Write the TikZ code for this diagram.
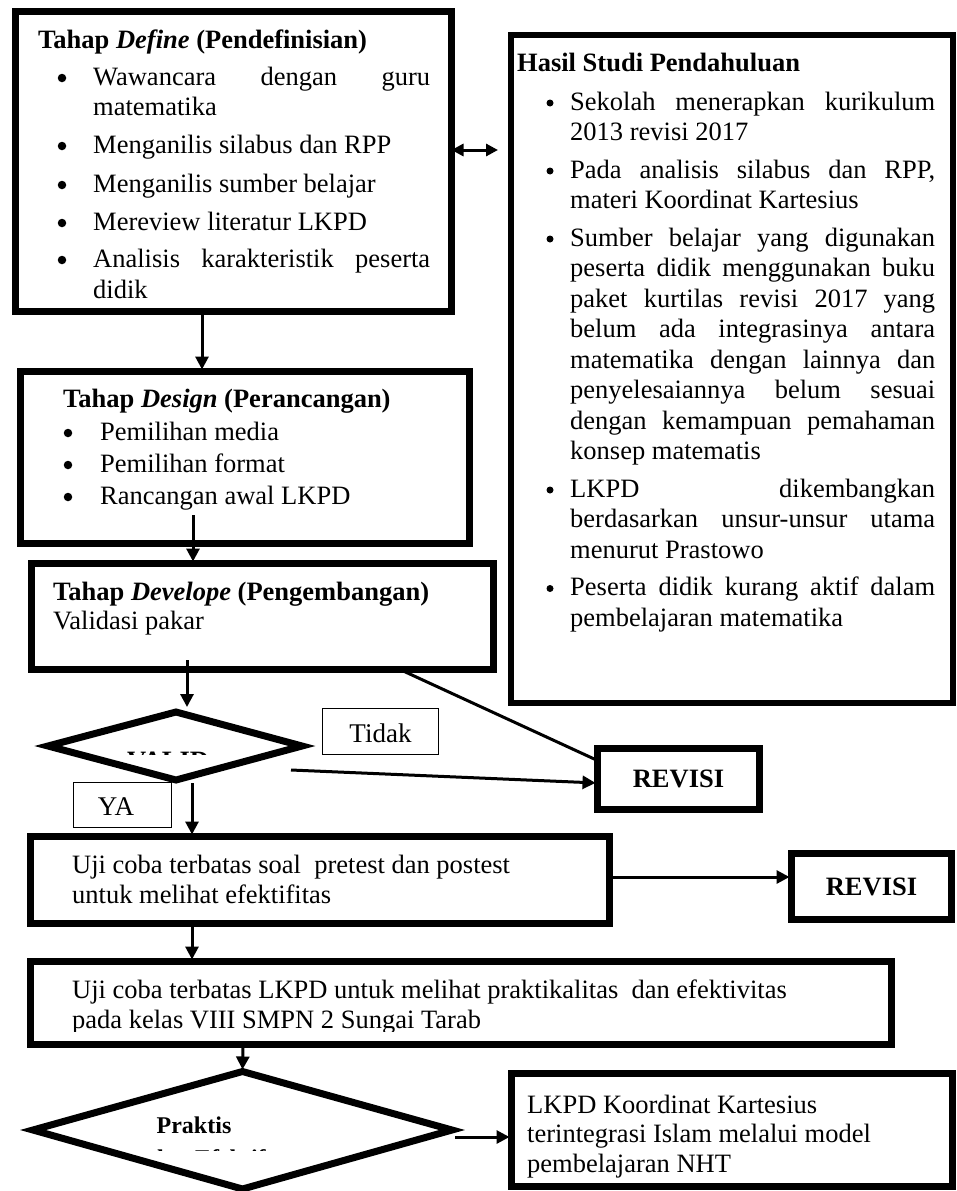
\documentclass[tikz,border=0pt]{standalone}
\usepackage{fontspec}
\setmainfont{Liberation Serif}
\usetikzlibrary{arrows.meta}
\newcommand{\fs}{\fontsize{26.5}{30.5}\selectfont}
\begin{document}
\begin{tikzpicture}[x=1pt,y=-1pt,
  heavybox/.style={draw, line width=7pt, inner sep=0pt, outer sep=0pt, anchor=north west},
  cbox/.style={draw, line width=7pt, inner sep=0pt, outer sep=0pt, font=\fs\bfseries},
  lightbox/.style={draw, line width=1.5pt, inner sep=0pt, outer sep=0pt},
  txt/.style={anchor=base west, inner sep=0pt, font=\fs},
  btxt/.style={anchor=base west, inner sep=0pt, font=\fs\bfseries},
  bul/.style={circle, fill=black, inner sep=0pt, minimum size=8.5pt},
  rbul/.style={circle, fill=black, inner sep=0pt, minimum size=7pt},
  diam/.style={draw, line width=7pt, miter limit=10},
  conn/.style={line width=3pt},
  arr/.style={line width=3pt, -{Triangle[length=13pt,width=13pt]}, shorten >=2pt},
  darr/.style={line width=3pt, {Triangle[length=12pt,width=12pt]}-{Triangle[length=12pt,width=12pt]}}]
\useasboundingbox[fill=white] (0,0) rectangle (956,1191);

% ---------- boxes ----------
\node[heavybox, minimum width=436pt, minimum height=300pt] (define) at (15.5,11.5) {};
\node[heavybox, line width=6pt, minimum width=442pt, minimum height=668pt] (rbox) at (511,35) {};
\node[heavybox, minimum width=449pt, minimum height=172pt] (design) at (20.5,371.5) {};
\node[heavybox, minimum width=462pt, minimum height=106pt] (develop) at (31.5,563.5) {};
\node[cbox, minimum width=162pt, minimum height=61pt] (rv1) at (678.5,779) {REVISI};
\node[cbox, minimum width=160pt, minimum height=66pt] (rv2) at (871.5,886.5) {REVISI};
\node[lightbox, minimum width=116pt, minimum height=46pt] (tidak) at (380.5,731.5) {};
\node[lightbox, minimum width=98pt, minimum height=45pt] (ya) at (122.5,805) {};
\node[heavybox, minimum width=579pt, minimum height=87pt] (uji1) at (30.5,836.5) {};
\node[heavybox, minimum width=861pt, minimum height=83pt] (uji2) at (30.5,961.5) {};
\node[heavybox, minimum width=441pt, minimum height=113pt] (final) at (511.5,1073.5) {};

% ---------- diamonds ----------
\coordinate (d1l) at (48,746);
\coordinate (d1t) at (176,712);
\coordinate (d1r) at (302,746);
\coordinate (d1b) at (176,780);
\draw[diam] (d1l) -- (d1t) -- (d1r) -- (d1b) -- cycle;
\coordinate (d2l) at (33,1130);
\coordinate (d2t) at (242.5,1071.5);
\coordinate (d2r) at (452,1130);
\coordinate (d2b) at (242.5,1189);
\draw[diam] (d2l) -- (d2t) -- (d2r) -- (d2b) -- cycle;

% ---------- define text ----------
\node[btxt] (dt) at (38,48) {Tahap \textit{Define} (Pendefinisian)};
\node[bul] (db1) at (62,78) {};
\node[txt] (d1) at (93,85) {\makebox[337pt][s]{Wawancara dengan guru}};
\node[txt] (d1b2) at (93,115) {matematika};
\node[bul] (db2) at (62,146) {};
\node[txt] (d2) at (93,153) {Menganilis silabus dan RPP};
\node[bul] (db3) at (62,185) {};
\node[txt] (d3) at (93,192) {Menganilis sumber belajar};
\node[bul] (db4) at (62,223) {};
\node[txt] (d4) at (93,230) {Mereview literatur LKPD};
\node[bul] (db5) at (62,260) {};
\node[txt] (d5) at (93,267) {\makebox[337pt][s]{Analisis karakteristik peserta}};
\node[txt] (d5b) at (93,298) {didik};

% ---------- right box text ----------
\node[btxt] (rt) at (517,71) {Hasil Studi Pendahuluan};
\node[rbul] (rb1) at (550,103) {};
\node[txt] (r1a) at (570,110) {\makebox[365pt][s]{Sekolah menerapkan kurikulum}};
\node[txt] (r1b) at (570,140.5) {2013 revisi 2017};
\node[rbul] (rb2) at (550,171) {};
\node[txt] (r2a) at (570,178) {\makebox[365pt][s]{Pada analisis silabus dan RPP,}};
\node[txt] (r2b) at (570,208.5) {materi Koordinat Kartesius};
\node[rbul] (rb3) at (550,239) {};
\node[txt] (r3a) at (570,246) {\makebox[365pt][s]{Sumber belajar yang digunakan}};
\node[txt] (r3b) at (570,276.5) {\makebox[365pt][s]{peserta didik menggunakan buku}};
\node[txt] (r3c) at (570,307) {\makebox[365pt][s]{paket kurtilas revisi 2017 yang}};
\node[txt] (r3d) at (570,337.5) {\makebox[365pt][s]{belum ada integrasinya antara}};
\node[txt] (r3e) at (570,368) {\makebox[365pt][s]{matematika dengan lainnya dan}};
\node[txt] (r3f) at (570,398.5) {\makebox[365pt][s]{penyelesaiannya belum sesuai}};
\node[txt] (r3g) at (570,429) {\makebox[365pt][s]{dengan kemampuan pemahaman}};
\node[txt] (r3h) at (570,459.5) {konsep matematis};
\node[rbul] (rb4) at (550,490) {};
\node[txt] (r4a) at (570,497) {\makebox[365pt][s]{LKPD dikembangkan}};
\node[txt] (r4b) at (570,527.5) {\makebox[365pt][s]{berdasarkan unsur-unsur utama}};
\node[txt] (r4c) at (570,558) {menurut Prastowo};
\node[rbul] (rb5) at (550,588.5) {};
\node[txt] (r5a) at (570,595.5) {\makebox[365pt][s]{Peserta didik kurang aktif dalam}};
\node[txt] (r5b) at (570,626) {pembelajaran matematika};

% ---------- design text ----------
\node[btxt] (gt) at (63,407) {Tahap \textit{Design} (Perancangan)};
\node[bul] (gb1) at (68,433) {};
\node[txt] (g1) at (100,440) {Pemilihan media};
\node[bul] (gb2) at (68,465) {};
\node[txt] (g2) at (100,472) {Pemilihan format};
\node[bul] (gb3) at (68,497) {};
\node[txt] (g3) at (100,504) {Rancangan awal LKPD};

% ---------- develop text ----------
\node[btxt] (vt) at (53,600) {Tahap \textit{Develope} (Pengembangan)};
\node[txt] (v1) at (53,629) {Validasi pakar};

% ---------- small labels ----------
\node[anchor=center, inner sep=0pt, font=\fontsize{27}{30}\selectfont] (tidakt) at (380.5,733) {Tidak};
\node[anchor=center, inner sep=0pt, font=\fontsize{27}{30}\selectfont] (yat) at (116,807) {YA};
\begin{scope}
  \clip (100,740) rectangle (240,754.5);
  \node[anchor=base, inner sep=0pt, font=\fs\bfseries] (valid) at (168,769) {VALID};
\end{scope}
\node[anchor=base, inner sep=0pt, font=\fontsize{24}{28}\selectfont\bfseries] (prak) at (194,1133) {Praktis};
\begin{scope}
  \clip (100,1140) rectangle (320,1150.5);
  \node[anchor=base, inner sep=0pt, font=\fontsize{24}{28}\selectfont\bfseries] (efek) at (208,1166) {dan Efektif};
\end{scope}

% ---------- lower texts ----------
\node[txt] (u1a) at (72,873) {Uji coba terbatas soal\ \ pretest dan postest};
\node[txt] (u1b) at (72,903) {untuk melihat efektifitas};
\node[txt] (u2a) at (72,998) {Uji coba terbatas LKPD untuk melihat praktikalitas\ \ dan efektivitas};
\begin{scope}
  \clip (60,1005) rectangle (700,1031);
  \node[txt] (u2b) at (72,1028) {pada kelas VIII SMPN 2 Sungai Tarab};
\end{scope}
\node[txt] (f1) at (527,1113) {LKPD Koordinat Kartesius};
\node[txt] (f2) at (527,1142.5) {terintegrasi Islam melalui model};
\node[txt] (f3) at (527,1172) {pembelajaran NHT};

% ---------- connectors ----------
\coordinate (c1) at (202,0);
\draw[arr] (c1 |- define.south) -- (c1 |- design.north);
\coordinate (c2) at (193,515);
\draw[arr] (c2) -- (c2 |- develop.north);
\coordinate (c3) at (187,660);
\coordinate (c3e) at (187,709);
\draw[arr] (c3) -- (c3e);
\coordinate (c4) at (400,0);
\draw[conn] (c4 |- develop.south) -- ([yshift=-12pt]rv1.north west);
\coordinate (c5) at (291,770);
\draw[arr] (c5) -- ([yshift=-4pt]rv1.west);
\coordinate (c6) at (192,783);
\draw[arr] (c6) -- (c6 |- uji1.north);
\coordinate (c7) at (0,877);
\draw[arr] (uji1.east |- c7) -- (rv2.west |- c7);
\coordinate (c8) at (192,0);
\draw[arr] (c8 |- uji1.south) -- (c8 |- uji2.north);
\coordinate (c9) at (243,0);
\draw[arr] (c9 |- uji2.south) -- (d2t);
\coordinate (c10) at (455,1137);
\draw[arr] (c10) -- (final.west |- c10);
\coordinate (c11) at (0,150);
\coordinate (c11e) at (498,150);
\draw[darr] (define.east |- c11) -- (c11e);
\end{tikzpicture}
\end{document}
